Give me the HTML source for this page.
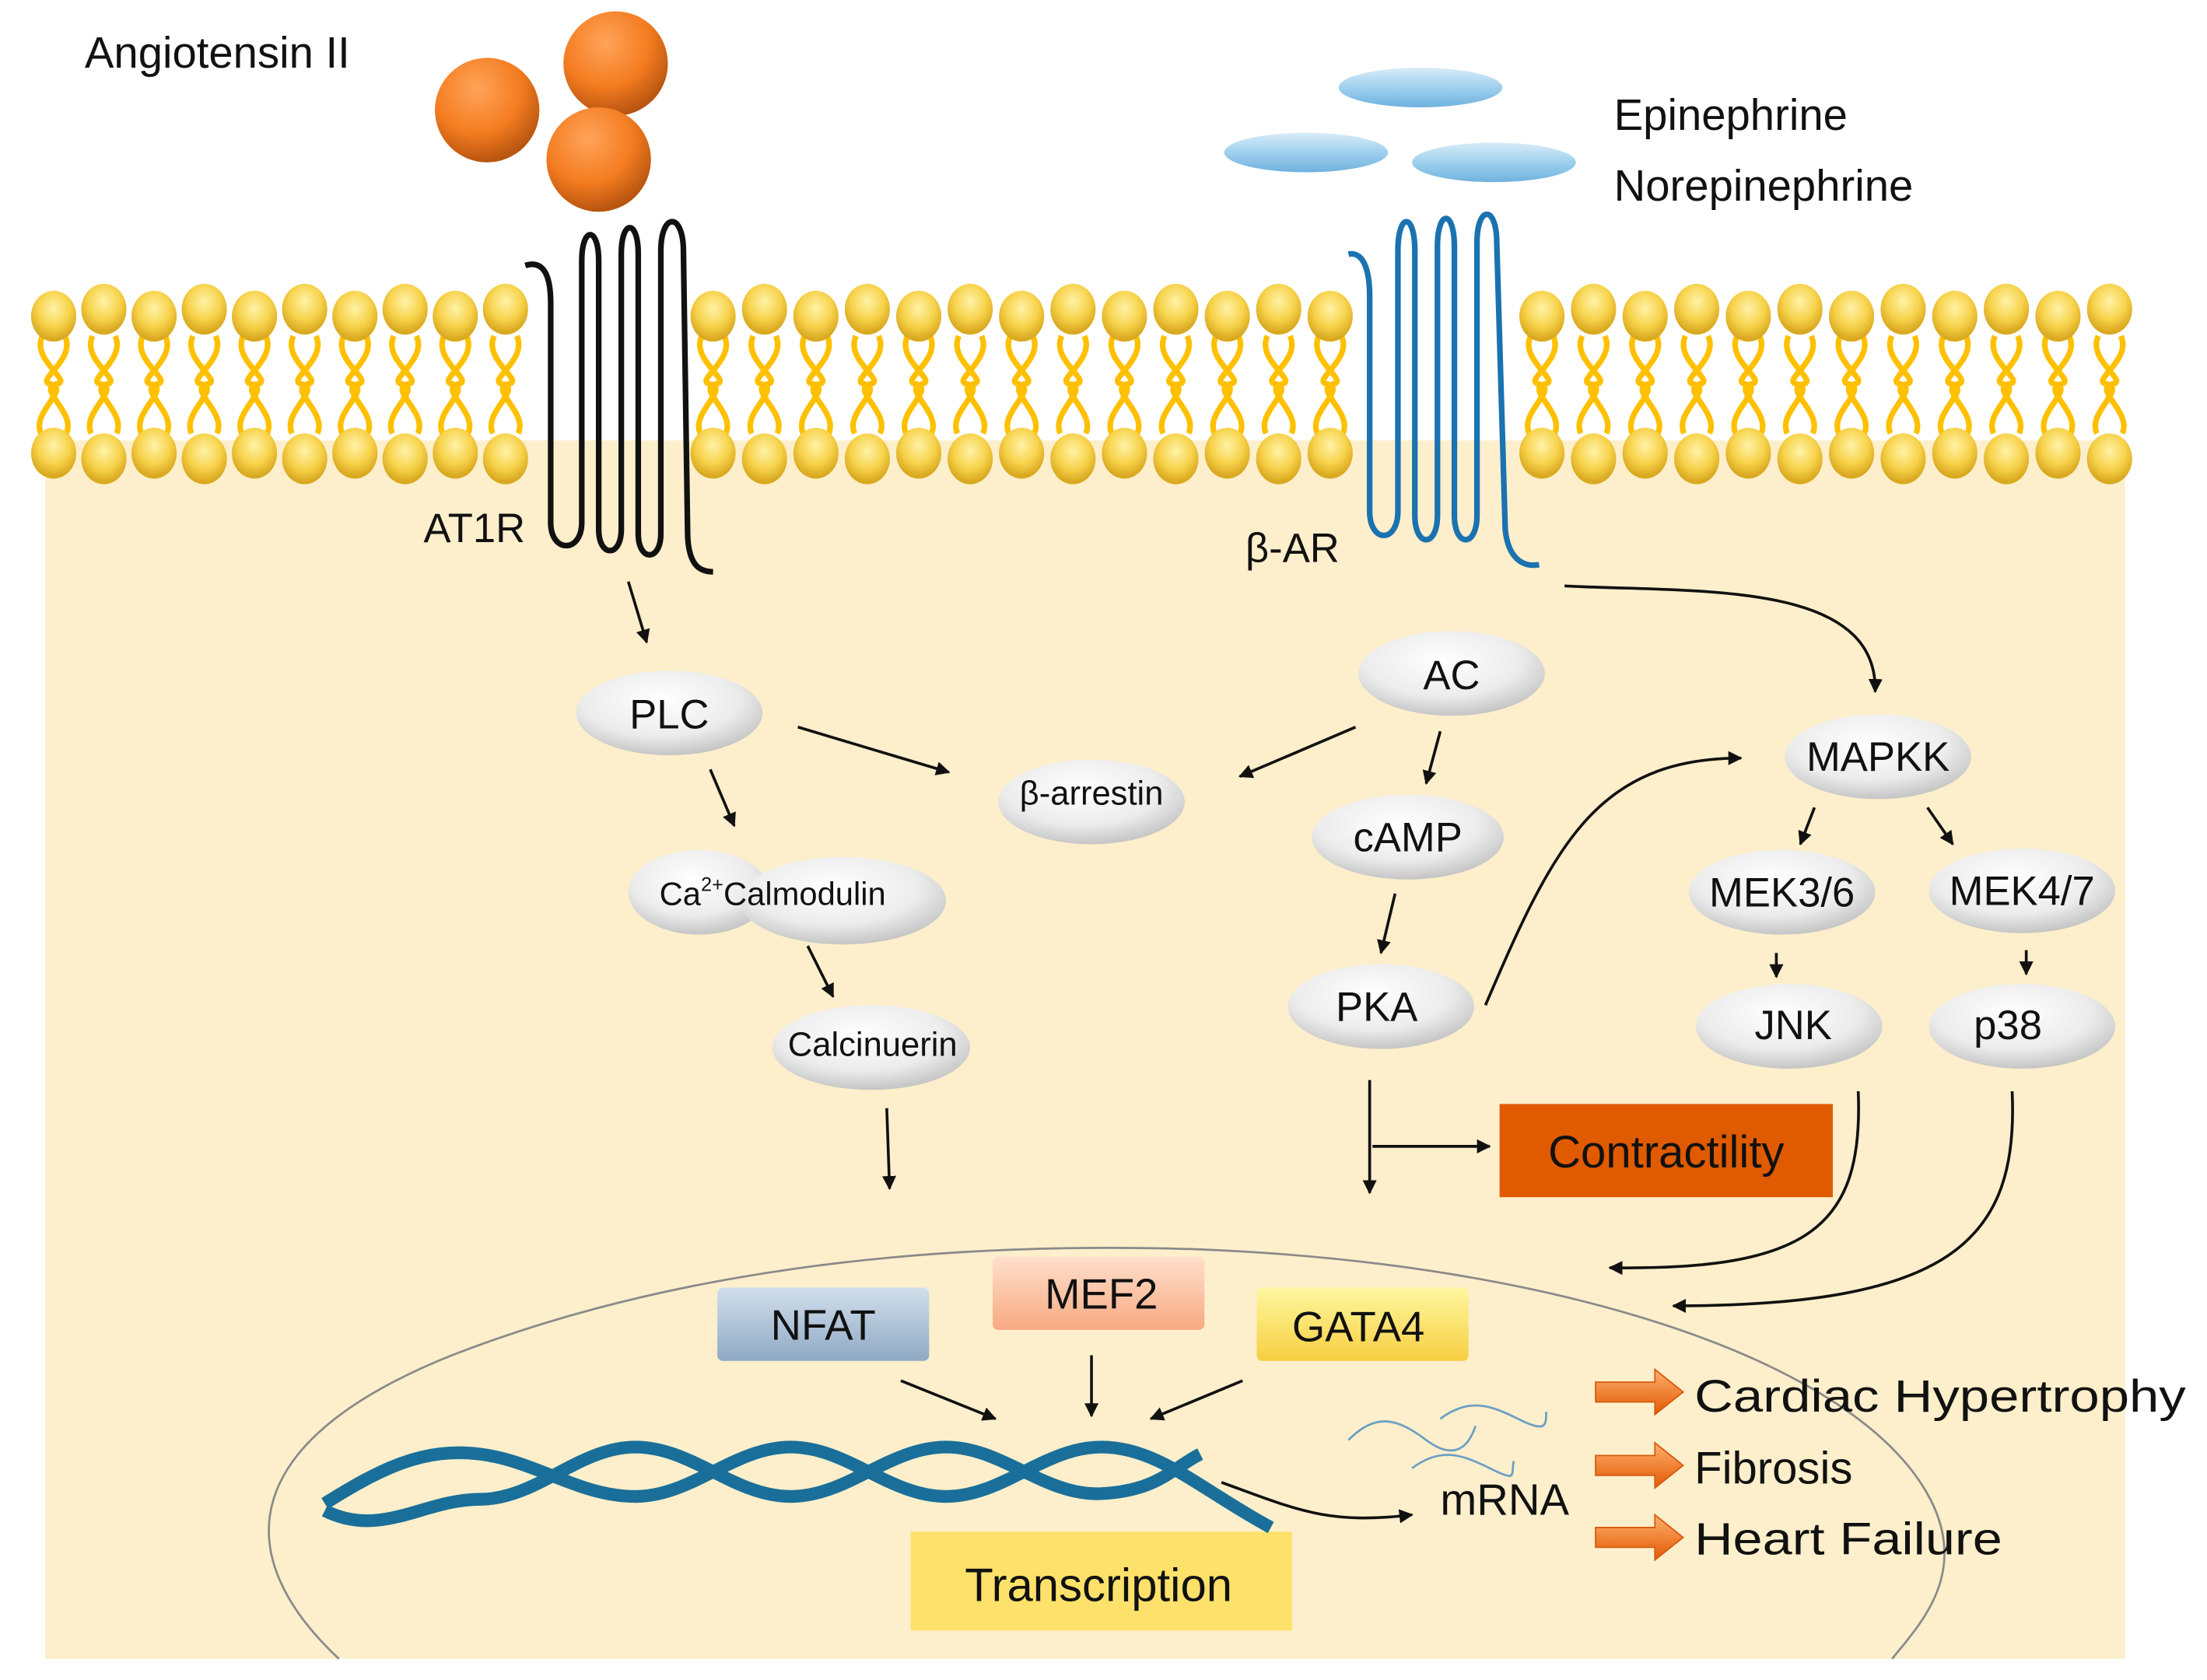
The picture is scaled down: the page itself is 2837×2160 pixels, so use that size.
<!DOCTYPE html>
<html><head><meta charset="utf-8"><style>
html,body{margin:0;padding:0;background:#fff;width:2837px;height:2160px;overflow:hidden}
svg{display:block}
text{font-family:"Liberation Sans",sans-serif;fill:#111}
</style></head><body>
<svg id="s" width="2837" height="2160" viewBox="0 0 1563 1190" xmlns="http://www.w3.org/2000/svg">
<defs>
<radialGradient id="org" cx="0.4" cy="0.3" r="0.7"><stop offset="0" stop-color="#ffa45a"/><stop offset="0.6" stop-color="#f47c20"/><stop offset="1" stop-color="#b85510"/></radialGradient>
<linearGradient id="blu" x1="0" y1="0" x2="0" y2="1"><stop offset="0" stop-color="#d8ecf8"/><stop offset="0.5" stop-color="#9fd0ee"/><stop offset="1" stop-color="#6fb2de"/></linearGradient>
<radialGradient id="head" cx="0.5" cy="0.35" r="0.6"><stop offset="0" stop-color="#fff3a8"/><stop offset="0.6" stop-color="#f7d24a"/><stop offset="1" stop-color="#d9a920"/></radialGradient>
<radialGradient id="node" cx="0.45" cy="0.35" r="0.7"><stop offset="0" stop-color="#ffffff"/><stop offset="0.6" stop-color="#ececec"/><stop offset="1" stop-color="#bdbdbd"/></radialGradient>
<linearGradient id="nfat" x1="0" y1="0" x2="0" y2="1"><stop offset="0" stop-color="#d2dfec"/><stop offset="1" stop-color="#8fa9c4"/></linearGradient>
<linearGradient id="mef" x1="0" y1="0" x2="0" y2="1"><stop offset="0" stop-color="#ffe0cc"/><stop offset="1" stop-color="#f7a982"/></linearGradient>
<linearGradient id="gata" x1="0" y1="0" x2="0" y2="1"><stop offset="0" stop-color="#fff7a0"/><stop offset="1" stop-color="#f6cf40"/></linearGradient>
<linearGradient id="oarr" x1="0" y1="0" x2="0" y2="1"><stop offset="0" stop-color="#ffb070"/><stop offset="1" stop-color="#e05a00"/></linearGradient>
<marker id="ah" viewBox="0 0 10 10" refX="9" refY="5" markerWidth="5" markerHeight="5" orient="auto"><path d="M0,0 L10,5 L0,10 z" fill="#111"/></marker>
</defs>
<rect x="0" y="0" width="1563" height="1190" fill="#fff"/>
<rect x="32" y="312" width="1473" height="863" fill="#fdefcb"/>
<g id="mem"></g>

<circle cx="345" cy="78" r="37" fill="url(#org)"/>
<circle cx="436" cy="45" r="37" fill="url(#org)"/>
<circle cx="424" cy="113" r="37" fill="url(#org)"/>
<ellipse cx="1006" cy="62" rx="58" ry="14" fill="url(#blu)"/>
<ellipse cx="925" cy="108" rx="58" ry="14" fill="url(#blu)"/>
<ellipse cx="1058" cy="115" rx="58" ry="14" fill="url(#blu)"/>
<text x="60" y="48" font-size="31">Angiotensin II</text>
<text x="1143" y="92" font-size="31">Epinephrine</text>
<text x="1143" y="142" font-size="31">Norepinephrine</text>

<path d="M372,188 C385,184 390,195 390,215 L390,370 C390,392 412,392 412,370 L412,185 C412,160 424,160 424,185 L424,375 C424,395 440,395 440,375 L440,180 C440,155 452,155 452,180 L452,378 C452,398 468,398 468,378 L468,178 C468,150 484,150 484,178 L487,380 C488,400 495,405 505,405" fill="none" stroke="#111" stroke-width="4"/>
<path d="M955,180 C965,178 970,190 970,210 L970,362 C970,385 990,385 990,362 L990,178 C990,150 1002,150 1002,178 L1002,365 C1002,388 1018,388 1018,365 L1018,175 C1018,148 1030,148 1030,175 L1030,365 C1030,388 1046,388 1046,365 L1046,172 C1046,145 1060,145 1060,172 L1066,375 C1068,395 1078,402 1090,400" fill="none" stroke="#1a72b0" stroke-width="4"/>
<text x="300" y="384" font-size="29">AT1R</text>
<text x="882" y="398" font-size="29">β-AR</text>

<g stroke="#111" stroke-width="2" fill="none" marker-end="url(#ah)">
<path d="M445,412 L458,455"/>
<path d="M565,515 L672,547"/>
<path d="M960,515 L878,550"/>
<path d="M1020,518 L1010,555"/>
<path d="M503,545 L520,585"/>
<path d="M572,670 L590,706"/>
<path d="M988,633 L978,675"/>
<path d="M628,785 L630,842"/>
<path d="M970,765 L970,845"/>
<path d="M972,812 L1055,812"/>
<path d="M1052,712 C1100,600 1130,537 1233,537"/>
<path d="M1108,415 C1200,420 1330,410 1328,490"/>
<path d="M1285,572 L1275,598"/>
<path d="M1365,572 L1383,598"/>
<path d="M1258,675 L1258,692"/>
<path d="M1435,673 L1435,690"/>
<path d="M1316,773 C1320,870 1280,900 1140,898"/>
<path d="M1425,773 C1430,880 1380,925 1185,925"/>
<path d="M638,978 L705,1005"/>
<path d="M773,960 L773,1003"/>
<path d="M880,978 L815,1005"/>
<path d="M865,1050 C920,1070 940,1080 1000,1073"/>
</g>

<g>
<ellipse cx="474" cy="505" rx="66" ry="30" fill="url(#node)"/><text x="474" y="516" font-size="29" text-anchor="middle">PLC</text>
<ellipse cx="1028" cy="477" rx="66" ry="30" fill="url(#node)"/><text x="1028" y="488" font-size="29" text-anchor="middle">AC</text>
<ellipse cx="773" cy="568" rx="66" ry="30" fill="url(#node)"/><text x="773" y="570" font-size="24" text-anchor="middle">β-arrestin</text>
<ellipse cx="997" cy="593" rx="68" ry="30" fill="url(#node)"/><text x="997" y="603" font-size="29" text-anchor="middle">cAMP</text>
<ellipse cx="978" cy="713" rx="66" ry="30" fill="url(#node)"/><text x="975" y="723" font-size="29" text-anchor="middle">PKA</text>
<ellipse cx="495" cy="632" rx="50" ry="30" fill="url(#node)"/>
<ellipse cx="597" cy="638" rx="73" ry="31" fill="url(#node)"/>
<text x="467" y="641" font-size="23">Ca<tspan dy="-10" font-size="14">2+</tspan><tspan dy="10">Calmodulin</tspan></text>
<ellipse cx="617" cy="742" rx="70" ry="30" fill="url(#node)"/><text x="618" y="748" font-size="24" text-anchor="middle">Calcinuerin</text>
<ellipse cx="1330" cy="536" rx="66" ry="30" fill="url(#node)"/><text x="1330" y="546" font-size="29" text-anchor="middle">MAPKK</text>
<ellipse cx="1262" cy="632" rx="66" ry="30" fill="url(#node)"/><text x="1262" y="642" font-size="29" text-anchor="middle">MEK3/6</text>
<ellipse cx="1432" cy="631" rx="66" ry="30" fill="url(#node)"/><text x="1432" y="641" font-size="29" text-anchor="middle">MEK4/7</text>
<ellipse cx="1267" cy="727" rx="66" ry="30" fill="url(#node)"/><text x="1270" y="736" font-size="29" text-anchor="middle">JNK</text>
<ellipse cx="1432" cy="727" rx="66" ry="30" fill="url(#node)"/><text x="1422" y="736" font-size="29" text-anchor="middle">p38</text>
</g>

<rect x="1062" y="782" width="236" height="66" fill="#e05a00"/>
<text x="1180" y="827" font-size="32" text-anchor="middle">Contractility</text>

<path d="M240,1175 C160,1100 170,1020 320,960 C500,890 700,880 850,885 C1100,895 1300,960 1360,1050 C1400,1110 1360,1150 1340,1175" fill="none" stroke="#8a8a8a" stroke-width="1.5"/>

<rect x="508" y="912" width="150" height="52" rx="4" fill="url(#nfat)"/><text x="583" y="949" font-size="30" text-anchor="middle">NFAT</text>
<rect x="703" y="890" width="150" height="52" rx="4" fill="url(#mef)"/><text x="780" y="927" font-size="30" text-anchor="middle">MEF2</text>
<rect x="890" y="912" width="150" height="52" rx="4" fill="url(#gata)"/><text x="962" y="950" font-size="30" text-anchor="middle">GATA4</text>

<rect x="645" y="1085" width="270" height="70" fill="#fde16a"/>
<path d="M230,1065 C270,1040 300,1025 340,1030 S410,1060 450,1060 S520,1025 560,1025 S630,1060 670,1060 S740,1025 780,1025 S850,1055 900,1082" fill="none" stroke="#1a6f9a" stroke-width="9"/>
<path d="M230,1070 C270,1090 300,1062 340,1062 S410,1025 450,1025 S520,1060 560,1060 S630,1025 670,1025 S740,1060 780,1058 S830,1040 850,1030" fill="none" stroke="#1a6f9a" stroke-width="9"/>
<text x="778" y="1134" font-size="33" text-anchor="middle">Transcription</text>

<g fill="none" stroke="#6b9ec4" stroke-width="1.5">
<path d="M955,1020 C975,1000 990,1005 1010,1020 S1040,1025 1045,1010"/>
<path d="M1020,1005 C1040,990 1055,995 1075,1005 S1095,1010 1095,1000"/>
<path d="M1000,1040 C1020,1025 1035,1030 1055,1040 S1070,1045 1072,1035"/>
</g>
<text x="1020" y="1073" font-size="31">mRNA</text>

<g fill="url(#oarr)" stroke="#d85a10" stroke-width="1">
<path d="M1130,979 L1172,979 L1172,970 L1192,986 L1172,1002 L1172,993 L1130,993 z"/>
<path d="M1130,1031 L1172,1031 L1172,1022 L1192,1038 L1172,1054 L1172,1045 L1130,1045 z"/>
<path d="M1130,1082 L1172,1082 L1172,1073 L1192,1089 L1172,1105 L1172,1096 L1130,1096 z"/>
</g>
<text x="1200" y="1000" font-size="32" textLength="348" lengthAdjust="spacingAndGlyphs">Cardiac Hypertrophy</text>
<text x="1200" y="1051" font-size="32">Fibrosis</text>
<text x="1200" y="1101" font-size="32" textLength="218" lengthAdjust="spacingAndGlyphs">Heart Failure</text>
</svg>
<script>
var g=document.getElementById('mem'),h='';
[[38,358],[505,942],[1092,1494]].forEach(function(s){
 var n=Math.round((s[1]-s[0])/36);var p=(s[1]-s[0])/n;
 for(var i=0;i<=n;i++){var x=s[0]+i*p;
  h+='<path d="M'+(x-8)+',238 C'+(x-16)+',255 '+(x+14)+',270 '+(x+2)+',272 C'+(x-12)+',276 '+(x+16)+',292 '+(x+9)+',307" fill="none" stroke="#ffc000" stroke-width="4"/>';
  h+='<path d="M'+(x+8)+',238 C'+(x+16)+',255 '+(x-14)+',270 '+(x-2)+',272 C'+(x+12)+',276 '+(x-16)+',292 '+(x-9)+',307" fill="none" stroke="#ffc000" stroke-width="4"/>';
 }
 for(var i=0;i<=n;i++){var x=s[0]+i*p;
  h+='<ellipse cx="'+x+'" cy="'+(222+(i%2?-3:2))+'" rx="16" ry="18" fill="url(#head)"/>';
  h+='<ellipse cx="'+x+'" cy="'+(322+(i%2?3:-1))+'" rx="16" ry="18" fill="url(#head)"/>';
 }
});
g.innerHTML=h;
</script>
</body></html>
